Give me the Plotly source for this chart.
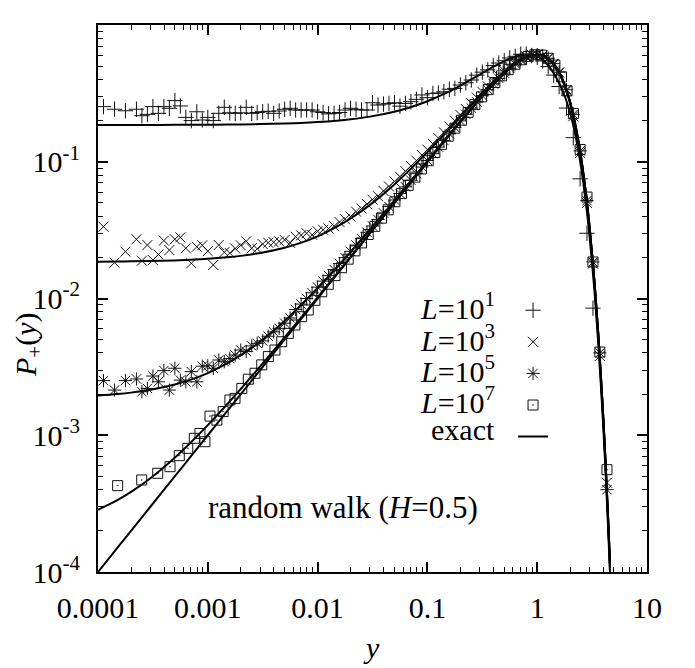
import plotly.graph_objects as go

# ---- data ----

# bin centres shared by the L=10, 10^3 and 10^5 runs
y_bins = [1.122e-4, 1.259e-4, 1.413e-4, 1.585e-4, 1.778e-4, 1.995e-4, 2.239e-4, 2.512e-4, 2.818e-4, 3.162e-4,
          3.548e-4, 3.981e-4, 4.467e-4, 5.012e-4, 5.623e-4, 6.310e-4, 7.079e-4, 7.943e-4, 8.913e-4, 1.000e-3,
          1.122e-3, 1.259e-3, 1.413e-3, 1.585e-3, 1.778e-3, 1.995e-3, 2.239e-3, 2.512e-3, 2.818e-3, 3.162e-3,
          3.548e-3, 3.981e-3, 4.467e-3, 5.012e-3, 5.623e-3, 6.310e-3, 7.079e-3, 7.943e-3, 8.913e-3, 1.000e-2,
          1.122e-2, 1.259e-2, 1.413e-2, 1.585e-2, 1.778e-2, 1.995e-2, 2.239e-2, 2.512e-2, 2.818e-2, 3.162e-2,
          3.548e-2, 3.981e-2, 4.467e-2, 5.012e-2, 5.623e-2, 6.310e-2, 7.079e-2, 7.943e-2, 8.913e-2, 0.1,
          0.1122, 0.1259, 0.1413, 0.1585, 0.1778, 0.1995, 0.2239, 0.2512, 0.2818, 0.3162,
          0.3548, 0.3981, 0.4467, 0.5012, 0.5623, 0.6310, 0.7079, 0.7943, 0.8913, 1.0,
          1.122, 1.259, 1.413, 1.585, 1.85, 2.13, 2.46, 2.84, 3.22, 3.72, 4.32]

p_L1 = [0.253, None, 0.242, None, 0.236, None, 0.242, 0.217, 0.222, 0.253,
        0.226, 0.253, 0.246, 0.280, 0.256, 0.211, 0.200, 0.232, 0.202, 0.211,
        0.200, 0.226, 0.250, 0.228, 0.226, 0.228, 0.250, 0.226, 0.229, 0.232,
        0.234, 0.226, 0.235, 0.242, 0.246, 0.239, 0.239, 0.239, 0.239, 0.232,
        0.229, 0.224, 0.226, 0.229, 0.239, 0.246, 0.242, 0.239, 0.239, 0.270,
        0.260, 0.264, 0.267, 0.270, 0.255, 0.267, 0.275, 0.286, 0.308, 0.294,
        0.316, 0.318, 0.325, 0.339, 0.344, 0.364, 0.378, 0.396, 0.430, 0.452,
        0.470, 0.505, 0.527, 0.548, 0.574, 0.590, 0.611, 0.612, 0.598, 0.581,
        0.546, 0.496, 0.430, 0.355, 0.247, 0.150, 0.075, 0.030, 0.0085, None, None]

p_L3 = [0.0335, None, 0.0183, None, 0.0220, None, 0.0271, 0.0189, 0.0246, 0.0191,
        0.0210, 0.0265, 0.0226, 0.0271, 0.0280, 0.0233, 0.0181, 0.0239, 0.0245, 0.0222,
        0.0176, 0.0246, 0.0218, 0.0215, 0.0232, 0.0245, 0.0262, 0.0233, 0.0231, 0.0250,
        0.0256, 0.0258, 0.0262, 0.0268, 0.0255, 0.0283, 0.0290, 0.0300, 0.0292, 0.0310,
        0.0318, 0.0325, 0.0338, 0.0362, 0.0380, 0.0398, 0.0432, 0.0455, 0.0490, 0.0528,
        0.0560, 0.0612, 0.0660, 0.0718, 0.0778, 0.0852, 0.0930, 0.1018, 0.1118, 0.1225,
        0.1350, 0.1490, 0.1640, 0.1810, 0.1995, 0.2200, 0.2430, 0.2680, 0.2950, 0.3250,
        0.3560, 0.3900, 0.4250, 0.4610, 0.4980, 0.5320, 0.5640, 0.5900, 0.6060, 0.6100,
        0.5990, 0.5700, 0.5180, 0.4480, 0.3300, 0.2150, 0.1160, 0.0500, 0.0180, 0.0038, 0.00045]

p_L5 = [2.51e-3, None, 2.14e-3, None, 2.51e-3, None, 2.58e-3, 2.08e-3, 2.20e-3, 2.71e-3,
        2.46e-3, 2.97e-3, 2.14e-3, 3.09e-3, 2.53e-3, 2.46e-3, 2.92e-3, 2.46e-3, 3.20e-3, 3.22e-3,
        3.09e-3, 3.55e-3, 3.45e-3, 3.64e-3, 3.86e-3, 4.20e-3, 4.10e-3, 4.50e-3, 4.70e-3, 4.90e-3,
        5.30e-3, 5.70e-3, 6.05e-3, 6.60e-3, 7.20e-3, 8.30e-3, 9.10e-3, 1.00e-2, 1.10e-2, 1.21e-2,
        1.34e-2, 1.47e-2, 1.63e-2, 1.80e-2, 1.99e-2, 2.21e-2, 2.46e-2, 2.74e-2, 3.05e-2, 3.39e-2,
        3.78e-2, 4.22e-2, 4.70e-2, 5.25e-2, 5.86e-2, 6.55e-2, 7.32e-2, 8.18e-2, 9.15e-2, 0.1022,
        0.1145, 0.128, 0.143, 0.160, 0.178, 0.199, 0.222, 0.247, 0.274, 0.304,
        0.337, 0.371, 0.407, 0.445, 0.483, 0.520, 0.554, 0.582, 0.601, 0.608,
        0.599, 0.571, 0.522, 0.452, 0.336, 0.222, 0.120, 0.052, 0.0185, 0.0040, 0.00040]

# the L=10^7 run has its own bins
y_L7 = [1.51e-4, 2.50e-4, 3.50e-4, 4.53e-4, 5.50e-4, 6.57e-4, 7.54e-4, 8.49e-4, 9.42e-4,
        1.047e-3, 1.21e-3, 1.38e-3, 1.59e-3, 1.77e-3, 2.04e-3, 2.34e-3, 2.69e-3, 3.10e-3, 3.56e-3,
        4.09e-3, 4.71e-3, 5.41e-3, 6.22e-3, 7.16e-3, 8.22e-3,
        9.45e-3, 0.0109, 0.0125, 0.0144, 0.0165, 0.019, 0.0219, 0.0251, 0.0289, 0.0332,
        0.0382, 0.044, 0.0506, 0.0581, 0.0669, 0.0769, 0.0884, 0.1017, 0.117, 0.1345,
        0.1547, 0.1779, 0.2046, 0.2353, 0.2706, 0.3112, 0.3578, 0.4115, 0.4733, 0.5443,
        0.6259, 0.7198, 0.8278, 0.952, 1.095, 1.259, 1.448, 1.665, 1.87, 2.14,
        2.46, 2.84, 3.22, 3.72, 4.32]
p_L7 = [4.28e-4, 4.71e-4, 5.27e-4, 5.89e-4, 7.09e-4, 8.02e-4, 9.5e-4, 1.03e-3, 8.97e-4,
        1.38e-3, 1.29e-3, 1.49e-3, 1.81e-3, 1.86e-3, 2.2e-3, 2.57e-3, 2.84e-3, 3.27e-3, 3.76e-3,
        4.2e-3, 4.83e-3, 5.56e-3, 6.4e-3, 7.36e-3, 8.24e-3,
        9.7e-3, 0.0112, 0.0127, 0.0147, 0.0168, 0.0194, 0.0223, 0.0255, 0.0294, 0.0337,
        0.0387, 0.0445, 0.0510, 0.0585, 0.0673, 0.0772, 0.0886, 0.1018, 0.1168, 0.1340,
        0.1537, 0.1760, 0.2012, 0.2298, 0.2620, 0.2980, 0.3370, 0.3795, 0.4245, 0.4710,
        0.5160, 0.5570, 0.5890, 0.6060, 0.6020, 0.5710, 0.5090, 0.4180, 0.3300, 0.2250,
        0.1230, 0.0552, 0.0185, 0.00406, 0.00056]

# exact curves (L=10, 10^3, 10^5, 10^7 and L -> infinity)
y_line = [1e-4, 1.5e-4, 2e-4, 3e-4, 5e-4, 7e-4, 1e-3, 1.5e-3, 2e-3, 3e-3, 5e-3, 7e-3, 0.01, 0.015, 0.02,
          0.03, 0.05, 0.07, 0.1, 0.15, 0.2, 0.3, 0.4, 0.5, 0.6, 0.7, 0.8, 0.9, 1.0, 1.1,
          1.2, 1.4, 1.6, 1.8, 2.0, 2.2, 2.5, 2.8, 3.0, 3.3, 3.6, 4.0, 4.2, 4.4, 4.6]

exact_L1 = [0.1858, 0.1858, 0.1859, 0.1860, 0.1861, 0.1863, 0.1866, 0.1870, 0.1875, 0.1885, 0.1904, 0.1923,
            0.1951, 0.1998, 0.2045, 0.2138, 0.2323, 0.2505, 0.2772, 0.3201, 0.3607, 0.4339, 0.4952, 0.5434,
            0.5780, 0.5988, 0.6065, 0.6019, 0.5864, 0.5616, 0.5294, 0.4496, 0.3700, 0.2950, 0.2260, 0.1640,
            0.0930, 0.0470, 0.0283, 0.01208, 0.00469, 0.001141, 0.000525, 0.000234, 0.0000995]
exact_L3 = [0.01860, 0.01865, 0.0187, 0.0188, 0.0190, 0.0192, 0.0195, 0.0200, 0.0205, 0.0215, 0.0235, 0.0255,
            0.0285, 0.0335, 0.0385, 0.0484, 0.0683, 0.0882, 0.1177, 0.1661, 0.2133, 0.3028, 0.3834, 0.4533,
            0.5108, 0.5550, 0.5855, 0.6024, 0.6063, 0.5984, 0.5800, 0.5187, 0.4368, 0.3480, 0.2632, 0.1893,
            0.1057, 0.0531, 0.0317, 0.01349, 0.00519, 0.001251, 0.000576, 0.000255, 0.000108]
exact_L5 = [0.00195, 0.00200, 0.00205, 0.00215, 0.00235, 0.00255, 0.00285, 0.00335, 0.00385, 0.00485, 0.00685,
            0.00885, 0.01185, 0.01685, 0.02184, 0.03183, 0.05178, 0.07166, 0.1013, 0.1501, 0.1978, 0.2884,
            0.3707, 0.4425, 0.5021, 0.5486, 0.5814, 0.6005, 0.6065, 0.6005, 0.5837, 0.5248, 0.4441, 0.3554,
            0.2699, 0.1950, 0.1094, 0.0553, 0.0332, 0.01416, 0.00550, 0.001337, 0.000615, 0.000274, 0.000116]
exact_L7 = [0.000285, 0.000335, 0.000385, 0.000485, 0.000685, 0.000885, 0.001185, 0.001685, 0.002185, 0.003185,
            0.005185, 0.007185, 0.01018, 0.01518, 0.02018, 0.03014, 0.05012, 0.07001, 0.0997, 0.1485, 0.1962,
            0.2870, 0.3693, 0.4414, 0.5013, 0.5479, 0.5809, 0.6003, 0.6065, 0.6006, 0.5840, 0.5253, 0.4448,
            0.3561, 0.2706, 0.1955, 0.1098, 0.0555, 0.0333, 0.01420, 0.00551, 0.001340, 0.000617, 0.000274,
            0.000117]
exact_inf = [1e-4, 1.5e-4, 2e-4, 3e-4, 5e-4, 7e-4, 1e-3, 1.5e-3, 2e-3, 3e-3, 5e-3, 7e-3, 0.0100, 0.0150, 0.0200,
             0.0300, 0.0499, 0.0698, 0.0995, 0.1483, 0.1960, 0.2868, 0.3692, 0.4413, 0.5012, 0.5479, 0.5809,
             0.6003, 0.6065, 0.6007, 0.5841, 0.5254, 0.4449, 0.3562, 0.2707, 0.1956, 0.1099, 0.0556, 0.0333,
             0.01421, 0.00552, 0.001342, 0.000618, 0.000275, 0.000117]

legend_labels = ["<i>L</i>=10<sup>1</sup>", "<i>L</i>=10<sup>3</sup>", "<i>L</i>=10<sup>5</sup>",
                 "<i>L</i>=10<sup>7</sup>", "exact"]
x_tickvals = [1e-4, 1e-3, 1e-2, 1e-1, 1, 10]
x_ticktext = ["0.0001", "0.001", "0.01", "0.1", "1", "10"]
y_tickvals = [1e-4, 1e-3, 1e-2, 1e-1, 1]
y_ticktext = ["10<sup>-4</sup>", "10<sup>-3</sup>", "10<sup>-2</sup>", "10<sup>-1</sup>", "10<sup>0</sup>"]

FONT = "Liberation Serif, Times New Roman, Times, serif"

fig = go.Figure()

for i, curve in enumerate([exact_L1, exact_L3, exact_L5, exact_L7, exact_inf]):
    fig.add_trace(go.Scatter(x=y_line, y=curve, mode="lines", name=" ",
                             line=dict(color="black", width=2, shape="spline"),
                             showlegend=(i == 0), legendrank=5))

markers = [
    (y_bins, p_L1, "cross-thin-open", 11),
    (y_bins, p_L3, "x-thin-open", 10),
    (y_bins, p_L5, "asterisk-open", 11),
    (y_L7, p_L7, "square-open-dot", 10),
]
for rank, (xs, ys, sym, size) in enumerate(markers):
    fig.add_trace(go.Scatter(x=xs, y=ys, mode="markers", name=" ", legendrank=rank + 1,
                             marker=dict(symbol=sym, size=size, color="#111",
                                         line=dict(color="#111", width=1))))

axis_common = dict(type="log", showline=True, linewidth=2, linecolor="black", mirror="allticks",
                   ticks="inside", ticklen=10, tickwidth=1.5, tickcolor="black", showgrid=False,
                   zeroline=False, tickmode="array",
                   tickfont=dict(family=FONT, size=30, color="black"),
                   minor=dict(ticks="inside", ticklen=5, tickwidth=1, tickcolor="black",
                              dtick="D1", showgrid=False))

fig.update_xaxes(range=[-4, 1], tickvals=x_tickvals, ticktext=x_ticktext, ticklabelstandoff=8, **axis_common)
fig.update_yaxes(range=[-4, 0], tickvals=y_tickvals, ticktext=y_ticktext, ticklabelstandoff=10, **axis_common)

annotations = [
    dict(text="<i>y</i>", x=0.499, y=-0.138, xref="paper", yref="paper", showarrow=False,
         xanchor="center", yanchor="middle", font=dict(family=FONT, size=30, color="black")),
    dict(text="<i>P</i><sub>+</sub>(<i>y</i>)", x=-0.1275, y=0.415, xref="paper", yref="paper",
         showarrow=False, textangle=-90, xanchor="center", yanchor="middle",
         font=dict(family=FONT, size=30, color="black")),
    dict(text="random walk (<i>H</i>=0.5)", x=0.446, y=0.118, xref="paper", yref="paper",
         showarrow=False, xanchor="center", yanchor="middle",
         font=dict(family=FONT, size=31, color="black")),
]
row_y = [0.4863, 0.4278, 0.3711, 0.3144, 0.2596]
for label, ry in zip(legend_labels, row_y):
    annotations.append(dict(text=label, x=0.7268, y=ry, xref="paper", yref="paper", showarrow=False,
                            xanchor="right", yanchor="middle",
                            font=dict(family=FONT, size=30, color="black")))

# the page body keeps an 8 px margin, so the figure is 8 px smaller each way
fig.update_layout(
    width=687, height=660,
    margin=dict(l=90, r=48, t=17, b=96),
    paper_bgcolor="white", plot_bgcolor="white",
    font=dict(family=FONT, size=30, color="black"),
    annotations=annotations,
    legend=dict(x=0.756, y=0.5166, xanchor="left", yanchor="top", bgcolor="rgba(0,0,0,0)",
                font=dict(family=FONT, size=22), itemwidth=30, tracegroupgap=0),
)

fig.write_html("out.html")
